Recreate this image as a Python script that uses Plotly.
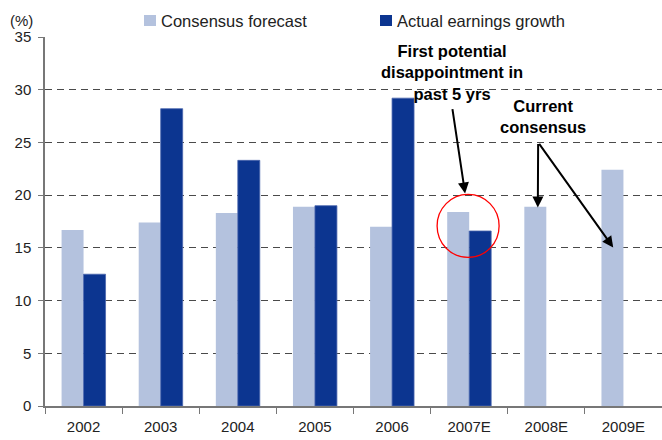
import plotly.graph_objects as go

years = ["2002", "2003", "2004", "2005", "2006", "2007E", "2008E", "2009E"]
consensus = [16.7, 17.4, 18.3, 18.9, 17.0, 18.4, 18.9, 22.4]
actual = [12.5, 28.2, 23.3, 19.0, 29.2, 16.6, None, None]
y_ticks = [0, 5, 10, 15, 20, 25, 30, 35]

LIGHT = "#b4c2de"
DARK = "#0c3590"
FONT = "Liberation Sans, Arial, sans-serif"

fig = go.Figure()
fig.add_trace(go.Bar(x=years, y=consensus, name="Consensus forecast",
                     marker=dict(color=LIGHT, line=dict(width=0)), showlegend=False))
fig.add_trace(go.Bar(x=years, y=actual, name="Actual earnings growth",
                     marker=dict(color=DARK, line=dict(color="#4a66ad", width=0.8)),
                     showlegend=False))

L, R, T, B = 45, 0, 37, 34
W, H = 662, 440
PW, PH = W - L - R, H - T - B


def px_x(p):
    return (p - L) / PW


def px_y(p):
    return (H - B - p) / PH


fig.update_layout(
    width=W, height=H,
    margin=dict(l=L, r=R, t=T, b=B, pad=0),
    paper_bgcolor="white", plot_bgcolor="white",
    barmode="group", bargap=0.43, bargroupgap=0,
    font=dict(family=FONT, size=15, color="#222222"),
    xaxis=dict(
        type="category", showgrid=False, showline=True, linecolor="#777777",
        linewidth=1.5, ticks="outside", tickson="boundaries", ticklen=6,
        tickcolor="#777777", tickwidth=1.2, tickfont=dict(size=15),
        ticklabelstandoff=6,
    ),
    yaxis=dict(
        range=[0, 35], tickvals=y_ticks, showline=True, linecolor="#777777",
        linewidth=1.5, ticks="outside", ticklen=5, tickcolor="#777777",
        tickwidth=1.2, showgrid=True, gridcolor="#4a4a4a", gridwidth=1,
        griddash="7px,5px", zeroline=False, tickfont=dict(size=15),
        ticklabelstandoff=4,
    ),
)

shapes = []
annotations = []

# legend drawn as swatches + labels above the plot
for x0, x1, tx, color, label in [
    (144, 156, 159, LIGHT, "Consensus forecast"),
    (380, 392, 395, DARK, "Actual earnings growth"),
]:
    shapes.append(dict(type="rect", xref="paper", yref="paper",
                       x0=px_x(x0), x1=px_x(x1), y0=px_y(26), y1=px_y(15),
                       fillcolor=color, line=dict(width=0)))
    annotations.append(dict(xref="paper", yref="paper", x=px_x(tx), y=px_y(20.5),
                            xanchor="left", yanchor="middle", showarrow=False,
                            text=label, font=dict(size=16.5, color="#222222")))

annotations.append(dict(xref="paper", yref="paper", x=px_x(8), y=px_y(20.5),
                        xanchor="left", yanchor="middle", showarrow=False,
                        text="(%)", font=dict(size=15, color="#222222")))

# callout texts
bold = dict(size=16.5, color="black", family=FONT)
annotations.append(dict(xref="x", yref="y", x=4.78, y=31.64, showarrow=False,
                        text="<b>First potential<br>disappointment in<br>past 5 yrs</b>",
                        font=bold, align="center"))
annotations.append(dict(xref="x", yref="y", x=5.96, y=27.42, showarrow=False,
                        text="<b>Current<br>consensus</b>", font=bold, align="center"))

# arrows
arrow = dict(showarrow=True, arrowhead=2, arrowsize=1.1, arrowwidth=2,
             arrowcolor="black", text="", xref="x", yref="y", axref="x", ayref="y")
annotations.append(dict(arrow, x=4.947, y=20.16, ax=4.78, ay=28.3))
annotations.append(dict(arrow, x=5.89, y=18.83, ax=5.894, ay=25.0))
annotations.append(dict(arrow, x=6.867, y=15.04, ax=5.894, ay=25.0))

# red circle around 2007E
shapes.append(dict(type="circle", xref="x", yref="y", x0=4.584, x1=5.388,
                   y0=14.09, y1=20.07, line=dict(color="red", width=1.3)))

fig.update_layout(shapes=shapes, annotations=annotations)
fig.write_html("out.html")
